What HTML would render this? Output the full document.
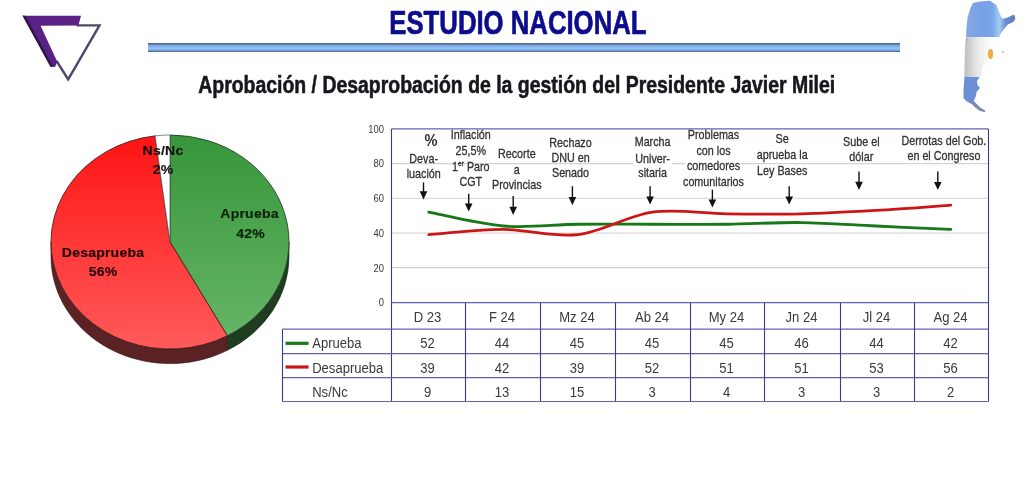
<!DOCTYPE html>
<html><head><meta charset="utf-8">
<style>
html,body{margin:0;padding:0;background:#fff;}
body{width:1024px;height:478px;overflow:hidden;position:relative;}
svg{position:absolute;left:0;top:0;}
text{font-family:"Liberation Sans",Arial,sans-serif;}
</style></head><body>
<svg width="1024" height="478" viewBox="0 0 1024 478">
<defs>
  <linearGradient id="bar" x1="0" y1="0" x2="0" y2="1">
    <stop offset="0" stop-color="#4a6284"/>
    <stop offset="0.14" stop-color="#5c7aa4"/>
    <stop offset="0.32" stop-color="#82b0ea"/>
    <stop offset="0.6" stop-color="#92c2f8"/>
    <stop offset="0.8" stop-color="#7ea6dc"/>
    <stop offset="0.93" stop-color="#5a76a0"/>
    <stop offset="1" stop-color="#4a6284"/>
  </linearGradient>
  <linearGradient id="gRed" x1="0" y1="0" x2="0" y2="1">
    <stop offset="0" stop-color="#ff1414"/>
    <stop offset="1" stop-color="#ff5a5a"/>
  </linearGradient>
  <linearGradient id="gGreen" x1="0" y1="0" x2="0" y2="1">
    <stop offset="0" stop-color="#36963a"/>
    <stop offset="1" stop-color="#66b466"/>
  </linearGradient>
</defs>

<!-- logo -->
<g id="logo">
  <polyline points="56.6,61 68.2,79.4 99.5,25.4 76.5,25.4" fill="none" stroke="#54466a" stroke-width="2.4" stroke-linejoin="miter"/>
  <polygon points="22.6,15.8 81,15.8 78.4,25.4 40.6,25.8 57.4,62 54.9,66.9 50.6,66.7" fill="#5a2186"/>
  <polygon points="22.4,15.6 25.4,15.8 53.2,66.8 50.4,66.7" fill="#2c1240" opacity="0.85"/>
</g>

<g id="header">
<text transform="translate(389.30,33.80) scale(0.775,1)" font-size="33.2" font-weight="bold" fill="#0c0c8c" stroke="#0c0c8c" stroke-width="0.7" stroke-linejoin="round">ESTUDIO NACIONAL</text>
<rect x="148" y="43" width="752" height="9" fill="url(#bar)"/>
<text transform="translate(198.30,92.80) scale(0.845,1)" font-size="23" font-weight="bold" fill="#16161c" stroke="#16161c" stroke-width="0.55" stroke-linejoin="round">Aprobación / Desaprobación de la gestión del Presidente Javier Milei</text>
</g>

<!-- map -->
<defs>
  <clipPath id="arg"><path d="M966,36.5 L966.5,28 L967.5,18 L970,9 L972.8,3 L980,1.6 L990,0.8 L996.4,5 L998.9,11.3 L1000.8,16.3 L1002.7,18.8 L1007.7,17.6 L1012.7,15 L1014.6,15.2 L1015.4,18.8 L1013.3,22 L1007.7,24.5 L1004,28.9 L1001.4,32.6 L999.5,36.4 L996,39 L994.5,44 L993.5,50 L993,56 L990.5,60 L986,63 L983.5,65 L982.5,68 L981.7,72 L981.5,75 L979,78 L977,81 L977.5,85 L980,88 L976.5,92 L976,96 L974.5,99 L974,101.5 L977,104.5 L980.5,108 L985,110.5 L984.5,112 L979.5,110.5 L975.5,107.5 L972,104 L966,101 L963.5,98 L963.5,90 L964.3,80 L964.5,70 L964.8,55 L965,45 Z"/></clipPath>
  <linearGradient id="mapBlue" x1="964" y1="0" x2="1016" y2="0" gradientUnits="userSpaceOnUse">
    <stop offset="0" stop-color="#86a8e6"/>
    <stop offset="0.35" stop-color="#78a0e4"/>
    <stop offset="0.55" stop-color="#7aa6ea"/>
    <stop offset="0.68" stop-color="#a4cdf2"/>
    <stop offset="0.8" stop-color="#6a8ed0"/>
    <stop offset="1" stop-color="#5a78b8"/>
  </linearGradient>
  <linearGradient id="mapWhite" x1="964" y1="0" x2="994" y2="0" gradientUnits="userSpaceOnUse">
    <stop offset="0" stop-color="#bcbcbc"/>
    <stop offset="0.45" stop-color="#e8e8e8"/>
    <stop offset="0.8" stop-color="#fbfbfb"/>
    <stop offset="1" stop-color="#ffffff"/>
  </linearGradient>
</defs>
<g clip-path="url(#arg)">
  <rect x="960" y="0" width="60" height="37.5" fill="url(#mapBlue)"/>
  <rect x="960" y="37" width="60" height="40" fill="url(#mapWhite)"/>
  <rect x="960" y="77" width="60" height="40" fill="#6c90d6"/>
  <rect x="960" y="102" width="60" height="15" fill="#7a8cb0"/>
</g>
<ellipse cx="990.5" cy="54" rx="2.6" ry="5" fill="#f0a030" opacity="0.9"/>
<circle cx="967" cy="40" r="0.8" fill="#8899aa"/>
<circle cx="1003" cy="52" r="1" fill="#a8b8d8"/>

<!-- pie -->
<g id="pie">
<path d="M289.00,242.00 A119,107 0 0,1 227.33,335.76 L227.33,350.36 A119,107 0 0,0 289.00,256.60 Z" fill="#1f3d21" stroke="#142414" stroke-width="0.6"/>
<path d="M227.33,335.76 A119,107 0 0,1 51.00,242.00 L51.00,256.60 A119,107 0 0,0 227.33,350.36 Z" fill="#5a2222" stroke="#3a1212" stroke-width="0.6"/>
<path d="M170,242 L170.00,135.00 A119,107 0 0,1 227.33,335.76 Z" fill="url(#gGreen)" stroke="#223322" stroke-width="0.8"/>
<path d="M170,242 L227.33,335.76 A119,107 0 1,1 155.09,135.84 Z" fill="url(#gRed)" stroke="#3a1616" stroke-width="0.8"/>
<path d="M170,242 L155.09,135.84 A119,107 0 0,1 170.00,135.00 Z" fill="#ffffff" stroke="#555" stroke-width="0.7"/>
<text transform="translate(103.00,257.00) scale(1.04,1)" font-size="13.5" font-weight="bold" text-anchor="middle" fill="#220808" letter-spacing="0.2" stroke-width="0.15" stroke="#220808">Desaprueba</text>
<text transform="translate(103.20,276.00) scale(1.04,1)" font-size="13.5" font-weight="bold" text-anchor="middle" fill="#220808" letter-spacing="0.2" stroke-width="0.15" stroke="#220808">56%</text>
<text transform="translate(249.50,218.40) scale(1.04,1)" font-size="13.5" font-weight="bold" text-anchor="middle" fill="#0a200a" letter-spacing="0.2" stroke-width="0.15" stroke="#0a200a">Aprueba</text>
<text transform="translate(250.70,237.60) scale(1.04,1)" font-size="13.5" font-weight="bold" text-anchor="middle" fill="#0a200a" letter-spacing="0.2" stroke-width="0.15" stroke="#0a200a">42%</text>
<text transform="translate(163.00,155.20) scale(1.04,1)" font-size="13.5" font-weight="bold" text-anchor="middle" fill="#1a1010" letter-spacing="0.2" stroke-width="0.15" stroke="#1a1010">Ns/Nc</text>
<text transform="translate(163.20,174.20) scale(1.04,1)" font-size="13.5" font-weight="bold" text-anchor="middle" fill="#1a1010" letter-spacing="0.2" stroke-width="0.15" stroke="#1a1010">2%</text>
</g>

<!-- chart -->
<g id="chart">
<line x1="391.5" x2="988" y1="267.62" y2="267.62" stroke="#d2d2d2" stroke-width="1.1"/>
<line x1="391.5" x2="988" y1="232.94" y2="232.94" stroke="#d2d2d2" stroke-width="1.1"/>
<line x1="391.5" x2="988" y1="198.26" y2="198.26" stroke="#d2d2d2" stroke-width="1.1"/>
<line x1="391.5" x2="988" y1="163.58" y2="163.58" stroke="#d2d2d2" stroke-width="1.1"/>
<rect x="633" y="160" width="39" height="7" fill="#fff"/>
<rect x="685.5" y="160" width="55" height="7" fill="#fff"/>
<text transform="translate(384.00,306.20) scale(0.84,1)" font-size="11.2" text-anchor="end" fill="#383838" >0</text>
<text transform="translate(384.00,271.52) scale(0.84,1)" font-size="11.2" text-anchor="end" fill="#383838" >20</text>
<text transform="translate(384.00,236.84) scale(0.84,1)" font-size="11.2" text-anchor="end" fill="#383838" >40</text>
<text transform="translate(384.00,202.16) scale(0.84,1)" font-size="11.2" text-anchor="end" fill="#383838" >60</text>
<text transform="translate(384.00,167.48) scale(0.84,1)" font-size="11.2" text-anchor="end" fill="#383838" >80</text>
<text transform="translate(384.00,132.80) scale(0.84,1)" font-size="11.2" text-anchor="end" fill="#383838" >100</text>
<path d="M428.78,212.13 C441.21,214.44 478.49,223.98 503.34,226.00 C528.20,228.03 553.05,224.56 577.91,224.27 C602.76,223.98 627.61,224.27 652.47,224.27 C677.32,224.27 702.18,224.56 727.03,224.27 C751.89,223.98 776.74,222.25 801.59,222.54 C826.45,222.82 851.30,224.85 876.16,226.00 C901.01,227.16 938.29,228.89 950.72,229.47" fill="none" stroke="#167816" stroke-width="2.8" stroke-linecap="round"/>
<path d="M428.78,234.67 C441.21,233.81 478.49,229.47 503.34,229.47 C528.20,229.47 553.05,237.56 577.91,234.67 C602.76,231.78 627.61,215.60 652.47,212.13 C677.32,208.66 702.18,213.58 727.03,213.87 C751.89,214.16 776.74,214.44 801.59,213.87 C826.45,213.29 851.30,211.84 876.16,210.40 C901.01,208.95 938.29,206.06 950.72,205.20" fill="none" stroke="#cc1616" stroke-width="2.8" stroke-linecap="round"/>
<line x1="391.5" x2="988.5" y1="128.9" y2="128.9" stroke="#6262b2" stroke-width="1.2"/>
<line x1="391.5" x2="391.5" y1="128.9" y2="401.5" stroke="#3c3c82" stroke-width="1.1"/>
<line x1="988.5" x2="988.5" y1="128.9" y2="401.5" stroke="#3c3c82" stroke-width="1.1"/>
<line x1="391.5" x2="988.5" y1="302.6" y2="302.6" stroke="#6262b2" stroke-width="1.2"/>
<line x1="282.5" x2="988.5" y1="329.1" y2="329.1" stroke="#6262b2" stroke-width="1.2"/>
<line x1="282.5" x2="988.5" y1="353.7" y2="353.7" stroke="#6262b2" stroke-width="1.2"/>
<line x1="282.5" x2="988.5" y1="377.6" y2="377.6" stroke="#6262b2" stroke-width="1.2"/>
<line x1="282.5" x2="988.5" y1="401.5" y2="401.5" stroke="#6262b2" stroke-width="1.2"/>
<line x1="282.5" x2="282.5" y1="329.1" y2="401.5" stroke="#3c3c82" stroke-width="1.1"/>
<line x1="465.5" x2="465.5" y1="302.6" y2="401.5" stroke="#3c3c82" stroke-width="1.1"/>
<line x1="540.5" x2="540.5" y1="302.6" y2="401.5" stroke="#3c3c82" stroke-width="1.1"/>
<line x1="615.5" x2="615.5" y1="302.6" y2="401.5" stroke="#3c3c82" stroke-width="1.1"/>
<line x1="690.5" x2="690.5" y1="302.6" y2="401.5" stroke="#3c3c82" stroke-width="1.1"/>
<line x1="764.5" x2="764.5" y1="302.6" y2="401.5" stroke="#3c3c82" stroke-width="1.1"/>
<line x1="840.5" x2="840.5" y1="302.6" y2="401.5" stroke="#3c3c82" stroke-width="1.1"/>
<line x1="914.5" x2="914.5" y1="302.6" y2="401.5" stroke="#3c3c82" stroke-width="1.1"/>
<text transform="translate(427.50,321.50) scale(0.9,1)" font-size="14.5" text-anchor="middle" fill="#3a3a3a" >D 23</text>
<text transform="translate(427.50,348.40) scale(0.9,1)" font-size="14.5" text-anchor="middle" fill="#3a3a3a" >52</text>
<text transform="translate(427.50,372.50) scale(0.9,1)" font-size="14.5" text-anchor="middle" fill="#3a3a3a" >39</text>
<text transform="translate(427.50,396.70) scale(0.9,1)" font-size="14.5" text-anchor="middle" fill="#3a3a3a" >9</text>
<text transform="translate(502.00,321.50) scale(0.9,1)" font-size="14.5" text-anchor="middle" fill="#3a3a3a" >F 24</text>
<text transform="translate(502.00,348.40) scale(0.9,1)" font-size="14.5" text-anchor="middle" fill="#3a3a3a" >44</text>
<text transform="translate(502.00,372.50) scale(0.9,1)" font-size="14.5" text-anchor="middle" fill="#3a3a3a" >42</text>
<text transform="translate(502.00,396.70) scale(0.9,1)" font-size="14.5" text-anchor="middle" fill="#3a3a3a" >13</text>
<text transform="translate(577.00,321.50) scale(0.9,1)" font-size="14.5" text-anchor="middle" fill="#3a3a3a" >Mz 24</text>
<text transform="translate(577.00,348.40) scale(0.9,1)" font-size="14.5" text-anchor="middle" fill="#3a3a3a" >45</text>
<text transform="translate(577.00,372.50) scale(0.9,1)" font-size="14.5" text-anchor="middle" fill="#3a3a3a" >39</text>
<text transform="translate(577.00,396.70) scale(0.9,1)" font-size="14.5" text-anchor="middle" fill="#3a3a3a" >15</text>
<text transform="translate(652.00,321.50) scale(0.9,1)" font-size="14.5" text-anchor="middle" fill="#3a3a3a" >Ab 24</text>
<text transform="translate(652.00,348.40) scale(0.9,1)" font-size="14.5" text-anchor="middle" fill="#3a3a3a" >45</text>
<text transform="translate(652.00,372.50) scale(0.9,1)" font-size="14.5" text-anchor="middle" fill="#3a3a3a" >52</text>
<text transform="translate(652.00,396.70) scale(0.9,1)" font-size="14.5" text-anchor="middle" fill="#3a3a3a" >3</text>
<text transform="translate(726.50,321.50) scale(0.9,1)" font-size="14.5" text-anchor="middle" fill="#3a3a3a" >My 24</text>
<text transform="translate(726.50,348.40) scale(0.9,1)" font-size="14.5" text-anchor="middle" fill="#3a3a3a" >45</text>
<text transform="translate(726.50,372.50) scale(0.9,1)" font-size="14.5" text-anchor="middle" fill="#3a3a3a" >51</text>
<text transform="translate(726.50,396.70) scale(0.9,1)" font-size="14.5" text-anchor="middle" fill="#3a3a3a" >4</text>
<text transform="translate(801.50,321.50) scale(0.9,1)" font-size="14.5" text-anchor="middle" fill="#3a3a3a" >Jn 24</text>
<text transform="translate(801.50,348.40) scale(0.9,1)" font-size="14.5" text-anchor="middle" fill="#3a3a3a" >46</text>
<text transform="translate(801.50,372.50) scale(0.9,1)" font-size="14.5" text-anchor="middle" fill="#3a3a3a" >51</text>
<text transform="translate(801.50,396.70) scale(0.9,1)" font-size="14.5" text-anchor="middle" fill="#3a3a3a" >3</text>
<text transform="translate(876.50,321.50) scale(0.9,1)" font-size="14.5" text-anchor="middle" fill="#3a3a3a" >Jl 24</text>
<text transform="translate(876.50,348.40) scale(0.9,1)" font-size="14.5" text-anchor="middle" fill="#3a3a3a" >44</text>
<text transform="translate(876.50,372.50) scale(0.9,1)" font-size="14.5" text-anchor="middle" fill="#3a3a3a" >53</text>
<text transform="translate(876.50,396.70) scale(0.9,1)" font-size="14.5" text-anchor="middle" fill="#3a3a3a" >3</text>
<text transform="translate(950.50,321.50) scale(0.9,1)" font-size="14.5" text-anchor="middle" fill="#3a3a3a" >Ag 24</text>
<text transform="translate(950.50,348.40) scale(0.9,1)" font-size="14.5" text-anchor="middle" fill="#3a3a3a" >42</text>
<text transform="translate(950.50,372.50) scale(0.9,1)" font-size="14.5" text-anchor="middle" fill="#3a3a3a" >56</text>
<text transform="translate(950.50,396.70) scale(0.9,1)" font-size="14.5" text-anchor="middle" fill="#3a3a3a" >2</text>
<line x1="285.5" x2="308.6" y1="343.3" y2="343.3" stroke="#167816" stroke-width="3.2"/>
<line x1="285.5" x2="308.6" y1="367.0" y2="367.0" stroke="#cc1616" stroke-width="3.2"/>
<text transform="translate(312.20,348.40) scale(0.9,1)" font-size="14.5" fill="#3a3a3a" >Aprueba</text>
<text transform="translate(312.20,372.50) scale(0.9,1)" font-size="14.5" fill="#3a3a3a" >Desaprueba</text>
<text transform="translate(312.20,396.70) scale(0.9,1)" font-size="14.5" fill="#3a3a3a" >Ns/Nc</text>
<text transform="translate(423.70,162.70) scale(0.828,1)" font-size="13" text-anchor="middle" fill="#303030" stroke="#303030" stroke-width="0.3">Deva-</text>
<text transform="translate(423.70,177.70) scale(0.828,1)" font-size="13" text-anchor="middle" fill="#303030" stroke="#303030" stroke-width="0.3">luación</text>
<text transform="translate(470.80,138.60) scale(0.828,1)" font-size="13" text-anchor="middle" fill="#303030" stroke="#303030" stroke-width="0.3">Inflación</text>
<text transform="translate(470.80,154.80) scale(0.828,1)" font-size="13" text-anchor="middle" fill="#303030" stroke="#303030" stroke-width="0.3">25,5%</text>
<text transform="translate(470.80,170.60) scale(0.828,1)" font-size="13" text-anchor="middle" fill="#303030" stroke="#303030" stroke-width="0.3">1<tspan font-size="8" dy="-4.6">er</tspan><tspan dy="4.6"> Paro</tspan></text>
<text transform="translate(470.80,186.20) scale(0.828,1)" font-size="13" text-anchor="middle" fill="#303030" stroke="#303030" stroke-width="0.3">CGT</text>
<text transform="translate(516.80,158.00) scale(0.828,1)" font-size="13" text-anchor="middle" fill="#303030" stroke="#303030" stroke-width="0.3">Recorte</text>
<text transform="translate(516.80,173.60) scale(0.828,1)" font-size="13" text-anchor="middle" fill="#303030" stroke="#303030" stroke-width="0.3">a</text>
<text transform="translate(516.80,188.70) scale(0.828,1)" font-size="13" text-anchor="middle" fill="#303030" stroke="#303030" stroke-width="0.3">Provincias</text>
<text transform="translate(570.50,146.70) scale(0.828,1)" font-size="13" text-anchor="middle" fill="#303030" stroke="#303030" stroke-width="0.3">Rechazo</text>
<text transform="translate(570.50,162.10) scale(0.828,1)" font-size="13" text-anchor="middle" fill="#303030" stroke="#303030" stroke-width="0.3">DNU en</text>
<text transform="translate(570.50,177.40) scale(0.828,1)" font-size="13" text-anchor="middle" fill="#303030" stroke="#303030" stroke-width="0.3">Senado</text>
<text transform="translate(652.60,146.30) scale(0.828,1)" font-size="13" text-anchor="middle" fill="#303030" stroke="#303030" stroke-width="0.3">Marcha</text>
<text transform="translate(652.60,162.80) scale(0.828,1)" font-size="13" text-anchor="middle" fill="#303030" stroke="#303030" stroke-width="0.3">Univer-</text>
<text transform="translate(652.60,177.40) scale(0.828,1)" font-size="13" text-anchor="middle" fill="#303030" stroke="#303030" stroke-width="0.3">sitaria</text>
<text transform="translate(713.50,138.50) scale(0.828,1)" font-size="13" text-anchor="middle" fill="#303030" stroke="#303030" stroke-width="0.3">Problemas</text>
<text transform="translate(713.50,154.50) scale(0.828,1)" font-size="13" text-anchor="middle" fill="#303030" stroke="#303030" stroke-width="0.3">con los</text>
<text transform="translate(713.50,169.60) scale(0.828,1)" font-size="13" text-anchor="middle" fill="#303030" stroke="#303030" stroke-width="0.3">comedores</text>
<text transform="translate(713.50,185.80) scale(0.828,1)" font-size="13" text-anchor="middle" fill="#303030" stroke="#303030" stroke-width="0.3">comunitarios</text>
<text transform="translate(782.20,142.80) scale(0.828,1)" font-size="13" text-anchor="middle" fill="#303030" stroke="#303030" stroke-width="0.3">Se</text>
<text transform="translate(782.20,158.90) scale(0.828,1)" font-size="13" text-anchor="middle" fill="#303030" stroke="#303030" stroke-width="0.3">aprueba la</text>
<text transform="translate(782.20,174.50) scale(0.828,1)" font-size="13" text-anchor="middle" fill="#303030" stroke="#303030" stroke-width="0.3">Ley Bases</text>
<text transform="translate(861.30,146.30) scale(0.828,1)" font-size="13" text-anchor="middle" fill="#303030" stroke="#303030" stroke-width="0.3">Sube el</text>
<text transform="translate(861.30,160.90) scale(0.828,1)" font-size="13" text-anchor="middle" fill="#303030" stroke="#303030" stroke-width="0.3">dólar</text>
<text transform="translate(943.90,145.30) scale(0.828,1)" font-size="13" text-anchor="middle" fill="#303030" stroke="#303030" stroke-width="0.3">Derrotas del Gob.</text>
<text transform="translate(943.90,159.90) scale(0.828,1)" font-size="13" text-anchor="middle" fill="#303030" stroke="#303030" stroke-width="0.3">en el Congreso</text>
<text transform="translate(430.90,145.60) scale(0.9,1)" font-size="16.2" font-weight="bold" text-anchor="middle" fill="#2e2e2e" >%</text>
<line x1="423.5" x2="423.5" y1="182.4" y2="193.4" stroke="#111" stroke-width="1.4"/>
<path d="M419.70,191.20 L427.30,191.20 L423.5,199.4 Z" fill="#111"/>
<line x1="468.7" x2="468.7" y1="193.7" y2="205.6" stroke="#111" stroke-width="1.4"/>
<path d="M464.90,203.40 L472.50,203.40 L468.7,211.6 Z" fill="#111"/>
<line x1="513.2" x2="513.2" y1="196.1" y2="208.9" stroke="#111" stroke-width="1.4"/>
<path d="M509.40,206.70 L517.00,206.70 L513.2,214.9 Z" fill="#111"/>
<line x1="572.4" x2="572.4" y1="186.2" y2="199.2" stroke="#111" stroke-width="1.4"/>
<path d="M568.60,197.00 L576.20,197.00 L572.4,205.2 Z" fill="#111"/>
<line x1="650.1" x2="650.1" y1="186.2" y2="198.6" stroke="#111" stroke-width="1.4"/>
<path d="M646.30,196.40 L653.90,196.40 L650.1,204.6 Z" fill="#111"/>
<line x1="712.4" x2="712.4" y1="189.7" y2="201.6" stroke="#111" stroke-width="1.4"/>
<path d="M708.60,199.40 L716.20,199.40 L712.4,207.6 Z" fill="#111"/>
<line x1="789.2" x2="789.2" y1="186.2" y2="198.6" stroke="#111" stroke-width="1.4"/>
<path d="M785.40,196.40 L793.00,196.40 L789.2,204.6 Z" fill="#111"/>
<line x1="859" x2="859" y1="171.6" y2="184" stroke="#111" stroke-width="1.4"/>
<path d="M855.20,181.80 L862.80,181.80 L859,190 Z" fill="#111"/>
<line x1="937.8" x2="937.8" y1="171.6" y2="184.1" stroke="#111" stroke-width="1.4"/>
<path d="M934.00,181.90 L941.60,181.90 L937.8,190.1 Z" fill="#111"/>
</g>
</svg>
</body></html>
